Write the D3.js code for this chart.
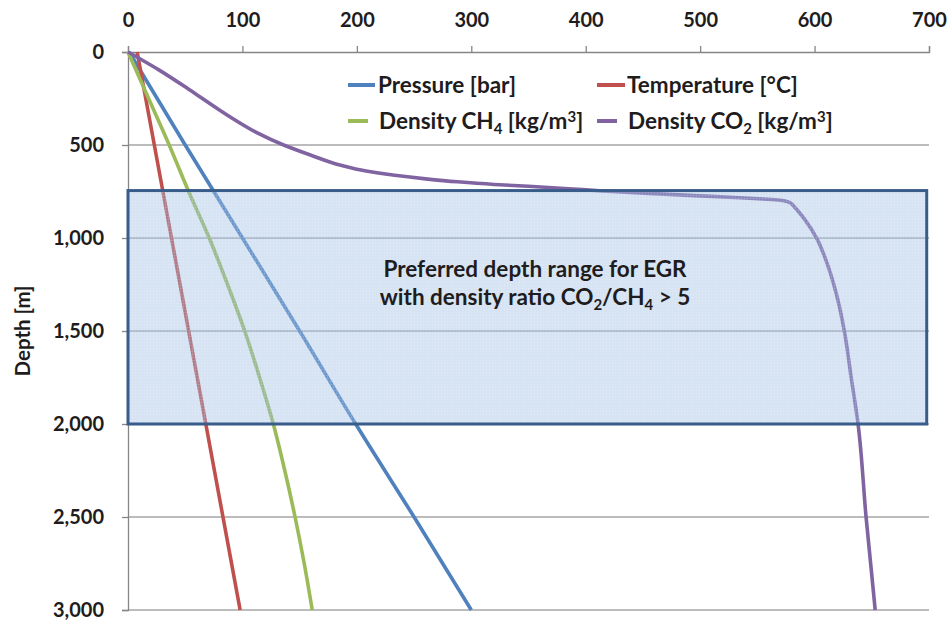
<!DOCTYPE html>
<html><head><meta charset="utf-8">
<script src="https://cdn.jsdelivr.net/npm/d3@7"></script>
<style>
html,body{margin:0;padding:0;background:#fff;}
svg text{font-family:Lato,"Open Sans",sans-serif;font-weight:700;fill:#1f1c1d;}
</style></head>
<body>
<svg id="chart" width="951" height="622"></svg>
<script>
// ---- data ----
const xTicks = [0,100,200,300,400,500,600,700];
const yTicks = [0,500,1000,1500,2000,2500,3000];

const ptDepths = [0,500,1000,1500,2000,2500,3000];
const pressure = [1,50,100,150,199,250,300];
const temperature = [8,23,38,53,68,83,98];

const ch4Depths = [0,250,500,750,1000,1250,1500,1750,2000,2250,2500,2750,3000];
const ch4Values = [0,18,36,53,71,87,102,115,127,137,146,154,161];

const co2Depths = [0,100,200,300,371,435,500,555,609,640,663,682,698,712,722,735,747,760,772,782,790,796,802,812,830,851,905,1003,1120,1300,1500,1750,2000,2500,3000];
const co2Values = [0,28,53,77,95,113,136,160,186,208,233,260,288,320,350,385,415,455,495,530,555,568,575,579,582,585,592,602,610,619,626,632,638,645,653];

const rangeDepths = [745, 2000];
const rangeValues = [0, 698];

// ---- layout ----
const svg = d3.select("#chart");
const mL = 128, mR = 929, mT = 52, mB = 610;
const x = d3.scaleLinear().domain([0,700]).range([mL,mR]);
const y = d3.scaleLinear().domain([0,3000]).range([mT,mB]);

const colors = ["#4F81BD","#C0504D","#9BBB59","#8064A2"];

// pattern for highlighted range
const defs = svg.append("defs");
const pat = defs.append("pattern").attr("id","grid").attr("width",3).attr("height",3).attr("patternUnits","userSpaceOnUse");
pat.append("rect").attr("width",3).attr("height",3).attr("fill","rgba(150,184,226,0.40)");
pat.append("rect").attr("width",3).attr("height",1).attr("fill","rgba(255,255,255,0.10)");
pat.append("rect").attr("width",1).attr("height",3).attr("fill","rgba(255,255,255,0.10)");

// gridlines
svg.append("g").selectAll("line").data(yTicks.slice(1)).join("line")
  .attr("x1",mL).attr("x2",mR).attr("y1",d=>y(d)).attr("y2",d=>y(d))
  .attr("stroke","#A6A6A6").attr("stroke-width",1.3);

// top axis
const xAxis = d3.axisTop(x).tickValues(xTicks).tickSize(6).tickPadding(19).tickFormat(d3.format("d"));
const gx = svg.append("g").attr("transform",`translate(0,${mT})`).call(xAxis);
gx.select(".domain").attr("stroke","#868686").attr("stroke-width",1.3);
gx.selectAll(".tick line").attr("stroke","#868686").attr("stroke-width",1.3);
gx.selectAll(".tick text").attr("font-size",20).style("font-family","Lato").style("font-weight",700).attr("fill","#1f1c1d");

// left axis
const yAxis = d3.axisLeft(y).tickValues(yTicks).tickSize(6).tickPadding(18).tickFormat(d3.format(","));
const gy = svg.append("g").attr("transform",`translate(${mL},0)`).call(yAxis);
gy.select(".domain").attr("stroke","#868686").attr("stroke-width",1.3);
gy.selectAll(".tick line").attr("stroke","#868686").attr("stroke-width",1.3);
gy.selectAll(".tick text").attr("font-size",20).style("font-family","Lato").style("font-weight",700).attr("fill","#1f1c1d");

// y title
svg.append("text").attr("transform",`translate(30,${(mT+mB)/2}) rotate(-90)`)
  .attr("text-anchor","middle").attr("font-size",20.5).text("Depth [m]");

// series
const line = d3.line().x(d=>x(d[0])).y(d=>y(d[1])).curve(d3.curveMonotoneY);
const series = [
  d3.zip(pressure, ptDepths),
  d3.zip(temperature, ptDepths),
  d3.zip(ch4Values, ch4Depths),
  d3.zip(co2Values, co2Depths)
];
svg.append("g").selectAll("path").data(series).join("path")
  .attr("d",line).attr("fill","none")
  .attr("stroke",(d,i)=>colors[i]).attr("stroke-width",3.6).attr("stroke-linejoin","round");

// highlighted range (drawn on top, translucent)
svg.append("rect")
  .attr("x",x(rangeValues[0])).attr("y",y(rangeDepths[0]))
  .attr("width",x(rangeValues[1])-x(rangeValues[0])).attr("height",y(rangeDepths[1])-y(rangeDepths[0]))
  .attr("fill","url(#grid)").attr("stroke","#385D8A").attr("stroke-width",3);

// centre annotation
const ann = svg.append("text").attr("text-anchor","middle").attr("font-size",22.5);
ann.append("tspan").attr("x",535).attr("y",277).text("Preferred depth range for EGR");
const l2 = ann.append("tspan").attr("x",535).attr("y",305);
l2.append("tspan").text("with density ratio CO");
l2.append("tspan").attr("font-size",15).attr("dy",5).text("2");
l2.append("tspan").attr("dy",-5).text("/CH");
l2.append("tspan").attr("font-size",15).attr("dy",5).text("4");
l2.append("tspan").attr("dy",-5).text(" > 5");

// legend
const legend = [
  {i:0, lx1:348, lx2:375, tx:378, ty:85, parts:[["Pressure [bar]",0]]},
  {i:1, lx1:597, lx2:625, tx:627, ty:85, parts:[["Temperature [°C]",0]]},
  {i:2, lx1:348, lx2:368, tx:379, ty:121, parts:[["Density CH",0],["4",1],[" [kg/m",0],["3",2],["]",0]]},
  {i:3, lx1:597, lx2:617, tx:628, ty:121, parts:[["Density CO",0],["2",1],[" [kg/m",0],["3",2],["]",0]]}
];
const lg = svg.append("g");
legend.forEach(e=>{
  lg.append("line").attr("x1",e.lx1).attr("x2",e.lx2).attr("y1",e.ty).attr("y2",e.ty)
    .attr("stroke",colors[e.i]).attr("stroke-width",4);
  const t = lg.append("text").attr("x",e.tx).attr("y",e.ty+7.5).attr("font-size",22.5);
  let shift = 0;
  e.parts.forEach(p=>{
    const target = p[1]===1 ? 5 : p[1]===2 ? -7 : 0;
    const ts = t.append("tspan").text(p[0]);
    if(target!==shift){ ts.attr("dy", target-shift); shift = target; }
    if(p[1]!==0) ts.attr("font-size",15);
  });
});
</script>
</body></html>
